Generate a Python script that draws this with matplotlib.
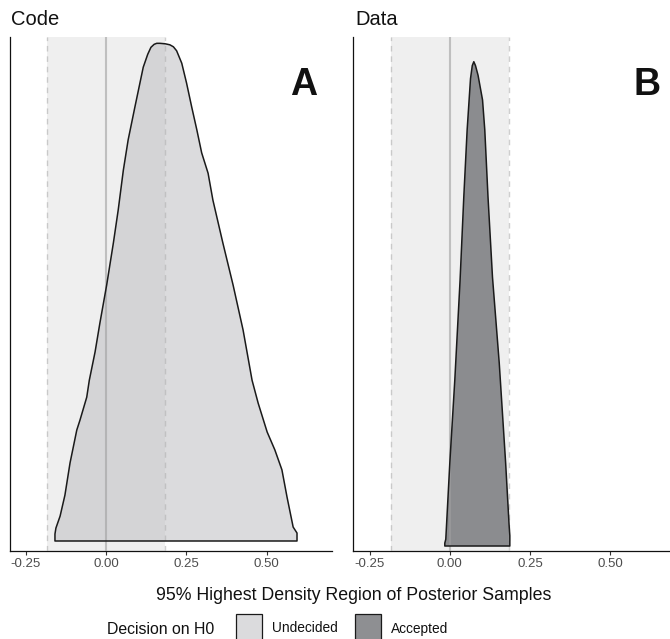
import matplotlib.pyplot as plt
from matplotlib.colors import to_rgba
from matplotlib.patches import Rectangle

plt.rcParams['font.family'] = ['Liberation Sans', 'DejaVu Sans']

# values (density scaled so the peak = 1)
panels = ['Code', 'Data']
letters = ['A', 'B']
decisions = ['Undecided', 'Accepted']
rope = 0.184

code_x = [-0.159, -0.159, -0.156, -0.143, -0.128, -0.112, -0.091, -0.081, -0.060, -0.052,
          -0.034, -0.019, 0.002, 0.023, 0.038, 0.054, 0.069, 0.090, 0.116, 0.130,
          0.140, 0.150, 0.158, 0.168, 0.185, 0.199, 0.210, 0.220, 0.236, 0.251,
          0.267, 0.283, 0.298, 0.318, 0.333, 0.364, 0.396, 0.427, 0.455, 0.474,
          0.502, 0.526, 0.548, 0.564, 0.583, 0.595, 0.595]
code_dens = [0.0, 0.014, 0.026, 0.050, 0.092, 0.157, 0.223, 0.243, 0.289, 0.323,
             0.380, 0.438, 0.514, 0.599, 0.665, 0.745, 0.806, 0.872, 0.952, 0.978,
             0.992, 0.998, 1.0, 1.0, 0.999, 0.997, 0.993, 0.985, 0.960, 0.920,
             0.872, 0.826, 0.780, 0.739, 0.685, 0.599, 0.514, 0.424, 0.323, 0.277,
             0.219, 0.183, 0.143, 0.088, 0.028, 0.016, 0.0]

data_x = [-0.0156, -0.0156, -0.0125, 0.0, 0.0156, 0.032, 0.0436, 0.054, 0.0645, 0.070,
          0.0748, 0.080, 0.088, 0.102, 0.109, 0.119, 0.133, 0.154, 0.174, 0.185,
          0.187, 0.187]
data_dens = [0.0, 0.006, 0.014, 0.171, 0.343, 0.549, 0.721, 0.859, 0.965, 0.992,
             1.0, 0.992, 0.972, 0.921, 0.859, 0.721, 0.555, 0.378, 0.171, 0.040,
             0.022, 0.0]

xs = [code_x, data_x]
dens = [code_dens, data_dens]
ylims = [(-0.0201, 1.0127), (-0.0103, 1.051)]
fills = ['#bfc0c3', '#747579']
alphas = [0.56, 0.81]
ticks = [-0.25, 0.0, 0.25, 0.5]

fig = plt.figure(figsize=(6.7, 6.39), dpi=100)
W, H = 670, 639
lefts = [9.5, 353.3]

for i in range(2):
    ax = fig.add_axes([lefts[i] / W, 88 / H, 322.5 / W, 514 / H])
    ax.axvspan(-rope, rope, color='#efefef', lw=0, zorder=0)
    ax.fill(xs[i], dens[i], facecolor=fills[i], alpha=alphas[i], lw=0, zorder=2)
    ax.axvline(0, color='#a0a0a0', alpha=0.6, lw=1.5, zorder=3)
    for r in (-rope, rope):
        ax.axvline(r, color='#b0b0b0', alpha=0.6, lw=1.0, ls=(0, (4, 3.5)), zorder=3)
    ax.fill(xs[i], dens[i], facecolor='none', edgecolor='#1a1a1a', lw=1.1,
            joinstyle='round', zorder=4)
    ax.text(0.615, 0.888, letters[i], transform=ax.get_xaxis_transform(),
            ha='center', va='baseline', fontsize=27, fontweight='bold', color='#111111')

    ax.set_xlim(-0.3006, 0.704)
    ax.set_ylim(*ylims[i])
    ax.set_xticks(ticks)
    ax.set_xticklabels(['-0.25', '0.00', '0.25', '0.50'])
    ax.set_yticks([])
    ax.tick_params(axis='x', length=2.6, width=0.8, color='#333333',
                   labelcolor='#4d4d4d', labelsize=9.5, pad=2.5)
    for s in ('top', 'right'):
        ax.spines[s].set_visible(False)
    for s in ('left', 'bottom'):
        ax.spines[s].set_linewidth(0.9)
        ax.spines[s].set_color('#111111')

# panel titles
fig.text(11 / W, 1 - 25 / H, panels[0], fontsize=14.5, va='baseline', color='#111111')
fig.text(355 / W, 1 - 25 / H, panels[1], fontsize=14.5, va='baseline', color='#111111')

fig.text(353.5 / W, 1 - 600 / H, '95% Highest Density Region of Posterior Samples',
         ha='center', va='baseline', fontsize=12.8, color='#111111')

# legend
fig.text(107 / W, 1 - 634.5 / H, 'Decision on H0', fontsize=11.4, va='baseline', color='#111111')
key_x = [235.5, 354.5]
lab_x = [272, 391]
for i in range(2):
    fig.patches.append(Rectangle((key_x[i] / W, 1 - 641 / H), 26.5 / W, 27 / H,
                                 transform=fig.transFigure,
                                 facecolor=to_rgba(fills[i], alphas[i]),
                                 edgecolor='#1a1a1a', lw=0.9))
    fig.text(lab_x[i] / W, 1 - 632.5 / H, decisions[i], fontsize=9.9,
             va='baseline', color='#111111')

fig.savefig('out.png', dpi=100)
